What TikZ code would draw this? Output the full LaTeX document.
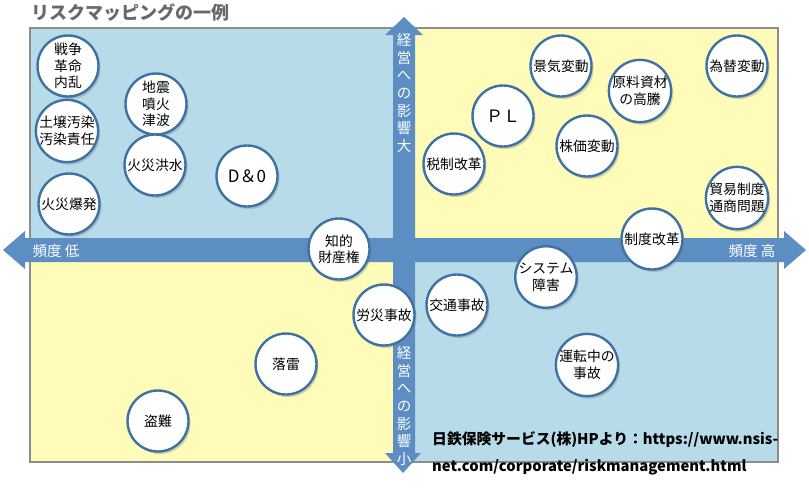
\documentclass[tikz,border=0pt]{standalone}
\usepackage{fontspec}
\setmainfont{Noto Sans CJK JP}
\usepackage{tikz}
\usetikzlibrary{shadows}
\definecolor{rblue}{RGB}{183,219,232}
\definecolor{ryellow}{RGB}{255,251,184}
\definecolor{raxis}{RGB}{92,142,196}
\definecolor{rrim}{RGB}{62,114,165}
\definecolor{rframe}{RGB}{140,140,140}
\definecolor{rtitle}{RGB}{105,105,105}
\newcommand{\rfs}[2]{\fontsize{#1}{#2}\selectfont}
\tikzset{
  rball/.style={circle,draw=rrim,line width=2.4pt,fill=white,minimum size=61pt,
    inner sep=0pt,align=center,font=\rfs{13.8}{16.5},
    drop shadow={shadow xshift=2pt,shadow yshift=-2.5pt,opacity=0.35}},
  rbig/.style={font=\rfs{17}{20}},
  rlabel/.style={text=white,inner sep=0pt,align=center,font=\rfs{14.5}{17.6}},
  rsource/.style={anchor=west,inner sep=0pt,font=\bfseries\rfs{14.8}{16}}}
\newcommand{\rball}[5][]{\node[rball,#1] (#2) at (#3,#4) {#5};}
\newcommand{\rquad}[5]{\fill[#1] (#2,#3) rectangle (#4,#5);}

\begin{document}
\begin{tikzpicture}[x=1pt,y=-1pt]
  \useasboundingbox (0,0) rectangle (809,491);
  \node[anchor=west,inner sep=0pt,text=rtitle,font=\bfseries\rfs{18}{20}] (title)
    at (31,13) {リスクマッピングの一例};
  % quadrants
  \rquad{rblue}{30}{28}{404}{250}
  \rquad{ryellow}{404}{28}{778}{250}
  \rquad{ryellow}{30}{250}{404}{462}
  \rquad{rblue}{404}{250}{778}{462}
  \draw[rframe,line width=1.5pt] (30,28) rectangle (778,462);
  % axes
  \fill[raxis] (3,250) -- (25,231) -- (25,238) -- (784,238) -- (784,231) -- (806,250)
    -- (784,269) -- (784,262) -- (25,262) -- (25,269) -- cycle;
  \fill[raxis] (404,17) -- (385,35) -- (393,35) -- (393,453) -- (385,453) -- (403,473)
    -- (421,453) -- (415,453) -- (415,35) -- (423,35) -- cycle;
  \node[rlabel] (freqlo) at (56,251) {頻度 低};
  \node[rlabel] (freqhi) at (752,251) {頻度 高};
  \node[rlabel] (impbig) at (404,93) {経\\営\\へ\\の\\影\\響\\大};
  \node[rlabel] (impsmall) at (404,406) {経\\営\\へ\\の\\影\\響\\小};
  % risks
  \rball{war}{68}{66}{戦争\\革命\\内乱}
  \rball{quake}{156}{104}{地震\\噴火\\津波}
  \rball{soil}{67}{131}{土壌汚染\\汚染責任}
  \rball{flood}{155}{165}{火災洪水}
  \rball[rbig]{dando}{247}{176}{D＆0}
  \rball{blast}{69}{204}{火災爆発}
  \rball{ip}{339}{249}{知的\\財産権}
  \rball{boom}{561}{66}{景気変動}
  \rball{material}{640}{91}{原料資材\\の高騰}
  \rball{forex}{737}{66}{為替変動}
  \rball[rbig]{pl}{503}{116}{ＰＬ}
  \rball{stock}{587}{146}{株価変動}
  \rball{tax}{454}{164}{税制改革}
  \rball{trade}{737}{198}{貿易制度\\通商問題}
  \rball{reform}{652}{239}{制度改革}
  \rball{system}{546}{277}{システム\\障害}
  \rball{traffic}{457}{305}{交通事故}
  \rball{labor}{384}{315}{労災事故}
  \rball{driving}{587}{365}{運転中の\\事故}
  \rball{thunder}{286}{364}{落雷}
  \rball{theft}{158}{421}{盗難}
  % source
  \node[rsource] (src1) at (432,440) {日鉄保険サービス(株)HPより：https://www.nsis-};
  \node[rsource] (src2) at (432,467) {net.com/corporate/riskmanagement.html};
\end{tikzpicture}
\end{document}
